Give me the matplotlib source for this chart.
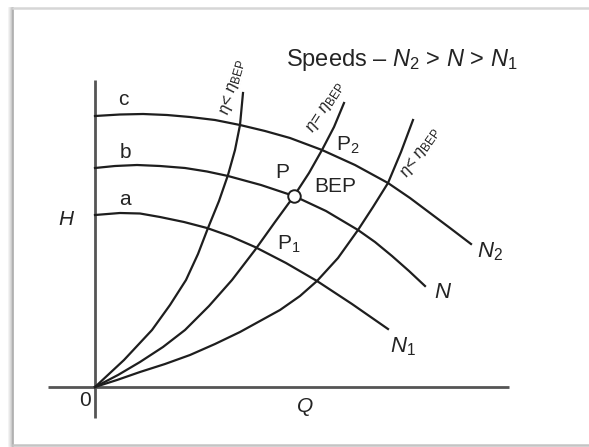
import matplotlib
matplotlib.use('Agg')
import matplotlib.pyplot as plt
from matplotlib.lines import Line2D

plt.rcParams['font.family'] = ['Liberation Sans', 'DejaVu Sans']
plt.rcParams['mathtext.fontset'] = 'custom'
plt.rcParams['mathtext.rm'] = 'Liberation Sans'
plt.rcParams['mathtext.it'] = 'Liberation Sans:italic'
plt.rcParams['mathtext.bf'] = 'Liberation Sans:bold'

# head-capacity curves for the three speeds (Q, H in arbitrary units)
q_c = [0.0, 0.25, 0.48, 0.72, 0.95, 1.20, 1.45, 1.70, 1.95, 2.27, 2.60, 2.93, 3.15, 3.35, 3.55, 3.76]
h_c = [2.71, 2.725, 2.73, 2.72, 2.70, 2.67, 2.62, 2.56, 2.49, 2.37, 2.22, 2.04, 1.89, 1.74, 1.59, 1.43]
q_b = [0.0, 0.20, 0.42, 0.65, 0.90, 1.12, 1.33, 1.66, 1.99, 2.31, 2.63, 2.80, 2.97, 3.14, 3.30]
h_b = [2.19, 2.21, 2.22, 2.21, 2.19, 2.155, 2.11, 2.02, 1.91, 1.76, 1.57, 1.45, 1.31, 1.16, 1.01]
q_a = [0.0, 0.25, 0.45, 0.65, 0.89, 1.12, 1.36, 1.60, 1.91, 2.22, 2.57, 2.93]
h_a = [1.72, 1.74, 1.735, 1.70, 1.65, 1.59, 1.505, 1.40, 1.24, 1.06, 0.83, 0.58]

# iso-efficiency curves through the origin
q_eta_lo1 = [0.0, 0.29, 0.57, 0.75, 0.91, 1.03, 1.13, 1.24, 1.33, 1.40, 1.45, 1.48]
h_eta_lo1 = [0.0, 0.27, 0.57, 0.82, 1.07, 1.33, 1.59, 1.86, 2.12, 2.37, 2.62, 2.94]
q_eta_bep = [0.0, 0.23, 0.45, 0.68, 0.90, 1.14, 1.37, 1.60, 1.80, 1.99, 2.14, 2.27, 2.39, 2.49]
h_eta_bep = [0.0, 0.12, 0.25, 0.40, 0.57, 0.81, 1.07, 1.37, 1.65, 1.91, 2.14, 2.37, 2.60, 2.84]
q_eta_lo2 = [0.0, 0.22, 0.45, 0.70, 0.95, 1.20, 1.45, 1.65, 1.85, 2.05, 2.22, 2.43, 2.63, 2.78, 2.93, 3.06, 3.18]
h_eta_lo2 = [0.0, 0.07, 0.15, 0.23, 0.32, 0.43, 0.55, 0.66, 0.77, 0.91, 1.06, 1.29, 1.57, 1.80, 2.04, 2.35, 2.67]

bep_q, bep_h = 1.99, 1.91

W, H = 589, 447
fig = plt.figure(figsize=(W / 100, H / 100), dpi=100)
ax = fig.add_axes([0, 0, 1, 1])
ax.set_xlim(-0.95, 4.94)
ax.set_ylim(-0.60, 3.87)
ax.axis('off')

# picture frame with a soft shadow on the left
def px(x, y):
    return x / W, 1 - y / H

for off, col in [(4, '#f1f1f1'), (3, '#e6e6e6'), (2, '#d9d9d9'), (1, '#c8c8c8'), (0, '#ababab')]:
    x0, y0 = px(13 - off, 8)
    x1, y1 = px(13 - off, 446)
    ax.add_line(Line2D([x0, x1], [y0, y1], transform=ax.transAxes, color=col, lw=1.2))
for y, col in [(8, '#d6d6d6'), (445, '#c4c4c4')]:
    x0, y0 = px(13, y)
    x1, y1 = px(W, y)
    ax.add_line(Line2D([x0, x1], [y0, y1], transform=ax.transAxes, color=col, lw=1.8))

# axes
axis_kw = dict(color='#555555', lw=2.0, solid_capstyle='butt')
ax.plot([-0.47, 4.14], [0, 0], **axis_kw)
ax.plot([0, 0], [-0.31, 3.07], **axis_kw)

line_kw = dict(color='#1e1e1e', lw=1.6, solid_joinstyle='round')
for q, h in [(q_c, h_c), (q_b, h_b), (q_a, h_a),
             (q_eta_lo1, h_eta_lo1), (q_eta_bep, h_eta_bep), (q_eta_lo2, h_eta_lo2)]:
    ax.plot(q, h, **line_kw)

ax.plot(bep_q, bep_h, 'o', ms=9, mfc='white', mec='#1e1e1e', mew=1.4, zorder=5)

txt = '#242424'
ax.text(3.07, 3.27, r'Speeds – $N_2$ > $N$ > $N_1$', fontsize=17, color=txt,
        ha='center', va='center')

eta_kw = dict(fontsize=12, color=txt, ha='center', va='center', rotation_mode='anchor')
ax.text(1.38, 3.00, r'$\eta$< $\eta_{\mathrm{BEP}}$', rotation=74, **eta_kw)
ax.text(2.31, 2.79, r'$\eta$= $\eta_{\mathrm{BEP}}$', rotation=57, **eta_kw)
ax.text(3.26, 2.34, r'$\eta$< $\eta_{\mathrm{BEP}}$', rotation=55, **eta_kw)

lab_kw = dict(fontsize=15, color=txt, ha='center', va='center')
ax.text(0.28, 2.87, 'c', **lab_kw)
ax.text(0.30, 2.35, 'b', **lab_kw)
ax.text(0.30, 1.87, 'a', **lab_kw)
ax.text(-0.28, 1.67, r'$H$', **lab_kw)
ax.text(-0.10, -0.13, '0', **lab_kw)
ax.text(2.10, -0.20, r'$Q$', **lab_kw)
ax.text(1.87, 2.15, 'P', **lab_kw)
ax.text(2.40, 2.01, 'BEP', **lab_kw)
ax.text(2.53, 2.42, r'P$_2$', **lab_kw)
ax.text(1.94, 1.43, r'P$_1$', **lab_kw)

n_kw = dict(fontsize=16, color=txt, ha='center', va='center')
ax.text(3.95, 1.35, r'$N_2$', **n_kw)
ax.text(3.48, 0.94, r'$N$', **n_kw)
ax.text(3.08, 0.40, r'$N_1$', **n_kw)

fig.savefig('out.png', dpi=100, facecolor='white')
